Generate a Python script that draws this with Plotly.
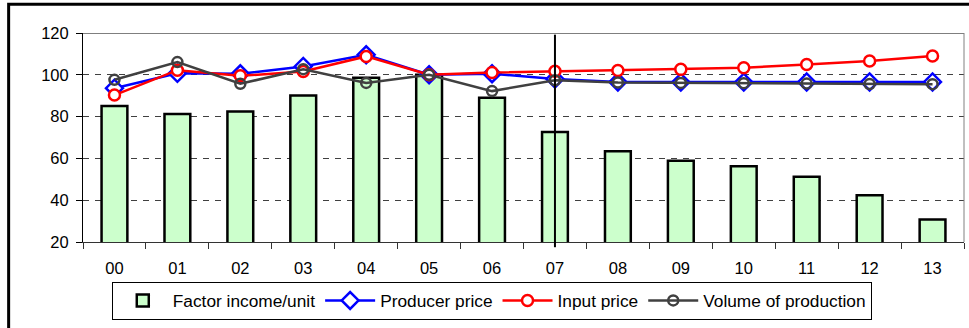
import plotly.graph_objects as go

# Years (two-digit labels) and index series
years = ["00", "01", "02", "03", "04", "05", "06", "07", "08", "09", "10", "11", "12", "13"]
factor_income = [85.1, 81.3, 82.4, 90.1, 98.6, 100.0, 89.0, 72.6, 63.4, 58.9, 56.3, 51.2, 42.4, 30.8]
producer_price = [93.6, 100.7, 100.5, 104.0, 109.6, 100.0, 100.5, 98.0, 96.6, 96.5, 96.5, 96.6, 96.6, 96.6]
input_price = [90.3, 102.2, 99.5, 101.6, 108.8, 100.0, 101.1, 101.7, 102.1, 102.6, 103.4, 104.9, 106.6, 109.0]
volume = [97.6, 106.1, 95.7, 102.7, 96.1, 100.0, 92.2, 97.4, 96.3, 96.1, 96.0, 95.8, 95.6, 95.5]

# Year at which the forecast period starts
split_year = "07"

FONT = "Liberation Sans, Arial, sans-serif"

fig = go.Figure()

fig.add_trace(go.Bar(
    x=years, y=factor_income, name="Factor income/unit",
    width=0.41,
    marker=dict(color="#CCFFCC", line=dict(color="black", width=2.5)),
))
fig.add_trace(go.Scatter(
    x=years, y=producer_price, name="Producer price", mode="lines+markers",
    line=dict(color="#0000FF", width=2.5),
    marker=dict(symbol="diamond", size=13, color="white",
                line=dict(color="#0000FF", width=2.5)),
))
fig.add_trace(go.Scatter(
    x=years, y=input_price, name="Input price", mode="lines+markers",
    line=dict(color="#FF0000", width=2.5),
    marker=dict(symbol="circle", size=11, color="white",
                line=dict(color="#FF0000", width=2.5)),
))
fig.add_trace(go.Scatter(
    x=years, y=volume, name="Volume of production", mode="lines+markers",
    line=dict(color="#404040", width=2.5),
    marker=dict(symbol="circle", size=10, color="rgba(255,255,255,0)",
                line=dict(color="#404040", width=2.5)),
))

shapes = [
    # top border of the plotting area
    dict(type="line", xref="paper", yref="y", x0=0, x1=1, y0=120, y1=120,
         line=dict(color="black", width=1)),
    # right border of the plotting area
    dict(type="line", xref="paper", yref="paper", x0=1, x1=1, y0=0, y1=1,
         line=dict(color="#808080", width=1)),
    # marker for the start of the projection
    dict(type="line", xref="x", yref="paper", x0=split_year, x1=split_year,
         y0=-0.025, y1=0.992, line=dict(color="black", width=2)),
    # outer frame around the chart
    dict(type="rect", xref="paper", yref="paper", x0=-0.0844, x1=1.1,
         y0=-0.6, y1=1.138, line=dict(color="black", width=3)),
]

fig.update_layout(
    width=969, height=328,
    margin=dict(l=83, r=5, t=33, b=86),
    paper_bgcolor="white", plot_bgcolor="white",
    font=dict(family=FONT, size=16, color="black"),
    bargap=0.59,
    showlegend=True,
    legend=dict(
        orientation="h", x=0.464, xanchor="center", y=-0.19, yanchor="top",
        bordercolor="black", borderwidth=1, bgcolor="white",
        font=dict(family=FONT, size=17.3, color="black"),
        itemwidth=50, tracegroupgap=0,
    ),
    shapes=shapes,
)

fig.update_xaxes(
    type="category", range=[-0.5, 13.5],
    showline=True, linecolor="#333333", linewidth=1,
    ticks="outside", ticklen=6, tickcolor="#333333", tickson="boundaries",
    showgrid=False, tickfont=dict(size=16.5), ticklabelstandoff=11,
)
fig.update_yaxes(
    range=[20, 120], dtick=20, tick0=20,
    showline=True, linecolor="black", linewidth=1,
    ticks="outside", ticklen=6, tickcolor="black",
    showgrid=True, gridcolor="#404040", gridwidth=1, griddash="6px,6px",
    zeroline=False, tickfont=dict(size=16.5), ticklabelstandoff=4,
)

fig.write_html("out.html")
